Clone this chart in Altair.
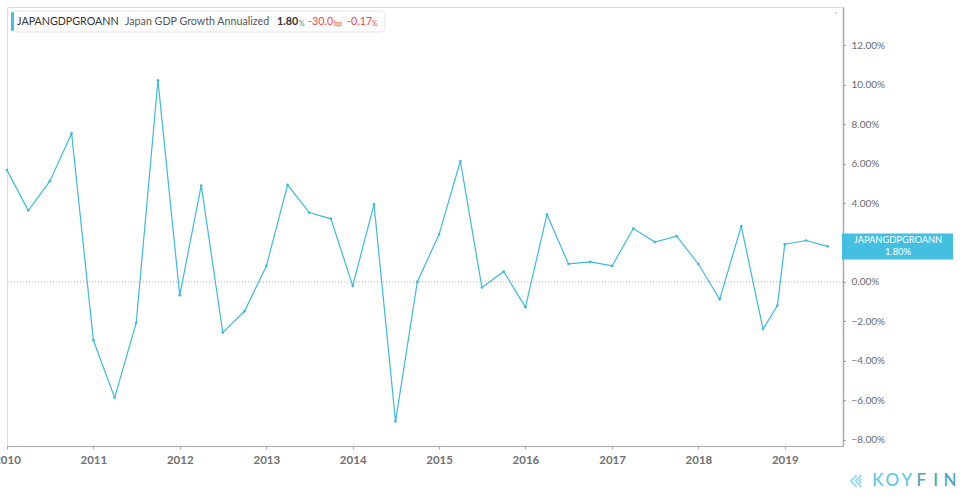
import altair as alt
import pandas as pd

# ---------------- data ----------------
series_code = "JAPANGDPGROANN"
series_name = "Japan GDP Growth Annualized"

dates = [
    "2010-01-01", "2010-04-01", "2010-07-01", "2010-10-01",
    "2011-01-01", "2011-04-01", "2011-07-01", "2011-10-01",
    "2012-01-01", "2012-04-01", "2012-07-01", "2012-10-01",
    "2013-01-01", "2013-04-01", "2013-07-01", "2013-10-01",
    "2014-01-01", "2014-04-01", "2014-07-01", "2014-10-01",
    "2015-01-01", "2015-04-01", "2015-07-01", "2015-10-01",
    "2016-01-01", "2016-04-01", "2016-07-01", "2016-10-01",
    "2017-01-01", "2017-04-01", "2017-07-01", "2017-10-01",
    "2018-01-01", "2018-04-01", "2018-07-01", "2018-10-01",
    "2018-12-01", "2019-01-01", "2019-04-01", "2019-07-01",
]
values = [
    5.67, 3.62, 5.11, 7.53,
    -2.96, -5.87, -2.08, 10.22,
    -0.68, 4.89, -2.57, -1.49,
    0.81, 4.92, 3.52, 3.20,
    -0.20, 3.93, -7.07, 0.00,
    2.41, 6.13, -0.28, 0.53,
    -1.28, 3.42, 0.91, 1.02,
    0.81, 2.71, 2.02, 2.32,
    0.91, -0.88, 2.83, -2.39,
    -1.20, 1.91, 2.10, 1.80,
]
y_ticks = [-8, -6, -4, -2, 0, 2, 4, 6, 8, 10, 12]
x_years = [2010, 2011, 2012, 2013, 2014, 2015, 2016, 2017, 2018, 2019]

header_last = "1.80"
header_change_bp = "-30.0"
header_change_pct = "-0.17"
logo_letters = ["K", "O", "Y", "F", "I", "N"]

df = pd.DataFrame({"date": dates, "value": values})
last_df = df.tail(1).copy()
one = pd.DataFrame({"k": [0]})

# ---------------- styles ----------------
LINE = "#3bbade"
BOX = "#43bfe2"
GRAY_AXIS = "#a8a8a8"
RED = "#f0464a"
FONT = "Lato"

x_enc = alt.X(
    "date:T",
    scale=alt.Scale(
        type="utc",
        domain=[
            alt.DateTime(year=2010, month=1, date=1, utc=True),
            alt.DateTime(year=2019, month=9, date=4, utc=True),
        ],
    ),
    axis=alt.Axis(
        values=[alt.DateTime(year=y, month=1, date=1, utc=True) for y in x_years],
        format="%Y",
        formatType="utc",
        labelFlush=False,
        labelOverlap=False,
        grid=False,
        tickSize=3,
        tickColor=GRAY_AXIS,
        domainColor=GRAY_AXIS,
        labelFont=FONT,
        labelFontWeight="bold",
        labelFontSize=11.5,
        labelColor="#707070",
        labelPadding=5,
        title=None,
    ),
)

y_scale = alt.Scale(domain=[-8.32, 13.94], nice=False, zero=False)
y_enc = alt.Y(
    "value:Q",
    scale=y_scale,
    axis=alt.Axis(
        orient="right",
        values=y_ticks,
        labelExpr="format(datum.value, '.2f') + '%'",
        grid=False,
        tickSize=2,
        tickColor="#777777",
        domainColor=GRAY_AXIS,
        domainWidth=1.5,
        labelFont=FONT,
        labelFontSize=10,
        labelColor="#6a6a6a",
        labelPadding=6,
        title=None,
    ),
)

base = alt.Chart(df)

zero_rule = alt.Chart(pd.DataFrame({"z": [0]})).mark_rule(
    color="#b5b5b5", strokeDash=[1, 2], strokeWidth=1
).encode(y=alt.Y("z:Q", scale=y_scale))

line = base.mark_line(color=LINE, strokeWidth=1.2).encode(x=x_enc, y=y_enc)
pts = base.mark_circle(color=LINE, size=7, opacity=1).encode(x="date:T", y="value:Q")

# right-side last value label box
box = (
    alt.Chart(last_df)
    .transform_calculate(top="datum.value + 0.66", bot="datum.value - 0.66")
    .mark_rect(color=BOX)
    .encode(
        x=alt.value(835),
        x2=alt.value(946),
        y=alt.Y("top:Q", scale=y_scale),
        y2="bot:Q",
    )
)
box_t1 = (
    alt.Chart(last_df)
    .transform_calculate(lab=f"'{series_code}'")
    .mark_text(color="white", font=FONT, fontSize=9.3, dy=-6.5, align="center", baseline="middle")
    .encode(x=alt.value(891), y=alt.Y("value:Q", scale=y_scale), text="lab:N")
)
box_t2 = (
    alt.Chart(last_df)
    .transform_calculate(lab="format(datum.value, '.2f') + '%'")
    .mark_text(color="white", font=FONT, fontSize=9.3, dy=6, align="center", baseline="middle")
    .encode(x=alt.value(891), y=alt.Y("value:Q", scale=y_scale), text="lab:N")
)

# header legend
hdr_box = alt.Chart(one).mark_rect(
    fill="white", stroke="#e4e4e4", strokeWidth=1, cornerRadius=4
).encode(x=alt.value(5), x2=alt.value(378), y=alt.value(4), y2=alt.value(25))
hdr_bar = alt.Chart(one).mark_rect(fill=BOX, cornerRadius=2).encode(
    x=alt.value(4), x2=alt.value(7), y=alt.value(5), y2=alt.value(24)
)


def htext(txt, x, color, size=10.7, weight="normal", dy=0):
    return (
        alt.Chart(pd.DataFrame({"t": [txt]}))
        .mark_text(
            align="left", baseline="middle", font=FONT, fontSize=size,
            fontWeight=weight, color=color, dy=dy,
        )
        .encode(x=alt.value(x), y=alt.value(15), text="t:N")
    )


hdr = [
    htext(series_code, 10, "#333333"),
    htext(series_name, 118, "#555555"),
    htext(header_last, 270, "#333333", weight="bold"),
    htext("%", 292, "#777777", size=7, dy=1.5),
    htext(header_change_bp, 301, RED),
    htext("bp", 327, RED, size=7, dy=1.5),
    htext(header_change_pct, 340, RED),
    htext("%", 365, RED, size=7, dy=1.5),
]

corner_dot = alt.Chart(one).mark_circle(color="#999999", size=3).encode(
    x=alt.value(829), y=alt.value(6)
)

# KOYFIN logo
logo_df = pd.DataFrame({"letter": logo_letters, "i": list(range(len(logo_letters)))})
logo = (
    alt.Chart(logo_df)
    .transform_calculate(
        px="871 + datum.i * 14.4",
        col="datum.i < 3 ? 'a' : 'b'",
    )
    .mark_text(font=FONT, fontSize=17, fontWeight=500, align="center", baseline="middle")
    .encode(
        x=alt.X("px:Q", scale=None),
        y=alt.value(474),
        text="letter:N",
        color=alt.Color("col:N", scale=alt.Scale(domain=["a", "b"], range=["#5cc8e8", "#4aa2c4"]), legend=None),
    )
)
logo_icon = alt.Chart(one).mark_point(
    shape="M0.1,-1 L-0.9,0 L0.1,1 M0.9,-1 L-0.1,0 L0.9,1 M0.9,-0.4 L0.5,0 L0.9,0.4",
    size=140,
    filled=False,
    color="#5cc8e8",
    strokeWidth=1.6,
).encode(x=alt.value(849), y=alt.value(474))

chart = (
    alt.layer(
        zero_rule, line, pts, box, box_t1, box_t2,
        hdr_box, hdr_bar, *hdr, corner_dot, logo, logo_icon,
    )
    .properties(
        width=836,
        height=439,
        autosize=alt.AutoSizeParams(type="none"),
        padding={"left": 7, "top": 7, "right": 117, "bottom": 50},
        background="white",
    )
    .configure_view(stroke=GRAY_AXIS, strokeWidth=1)
    .configure(font=FONT)
)

chart.save("out.html", embed_options={"renderer": "svg", "actions": False})
